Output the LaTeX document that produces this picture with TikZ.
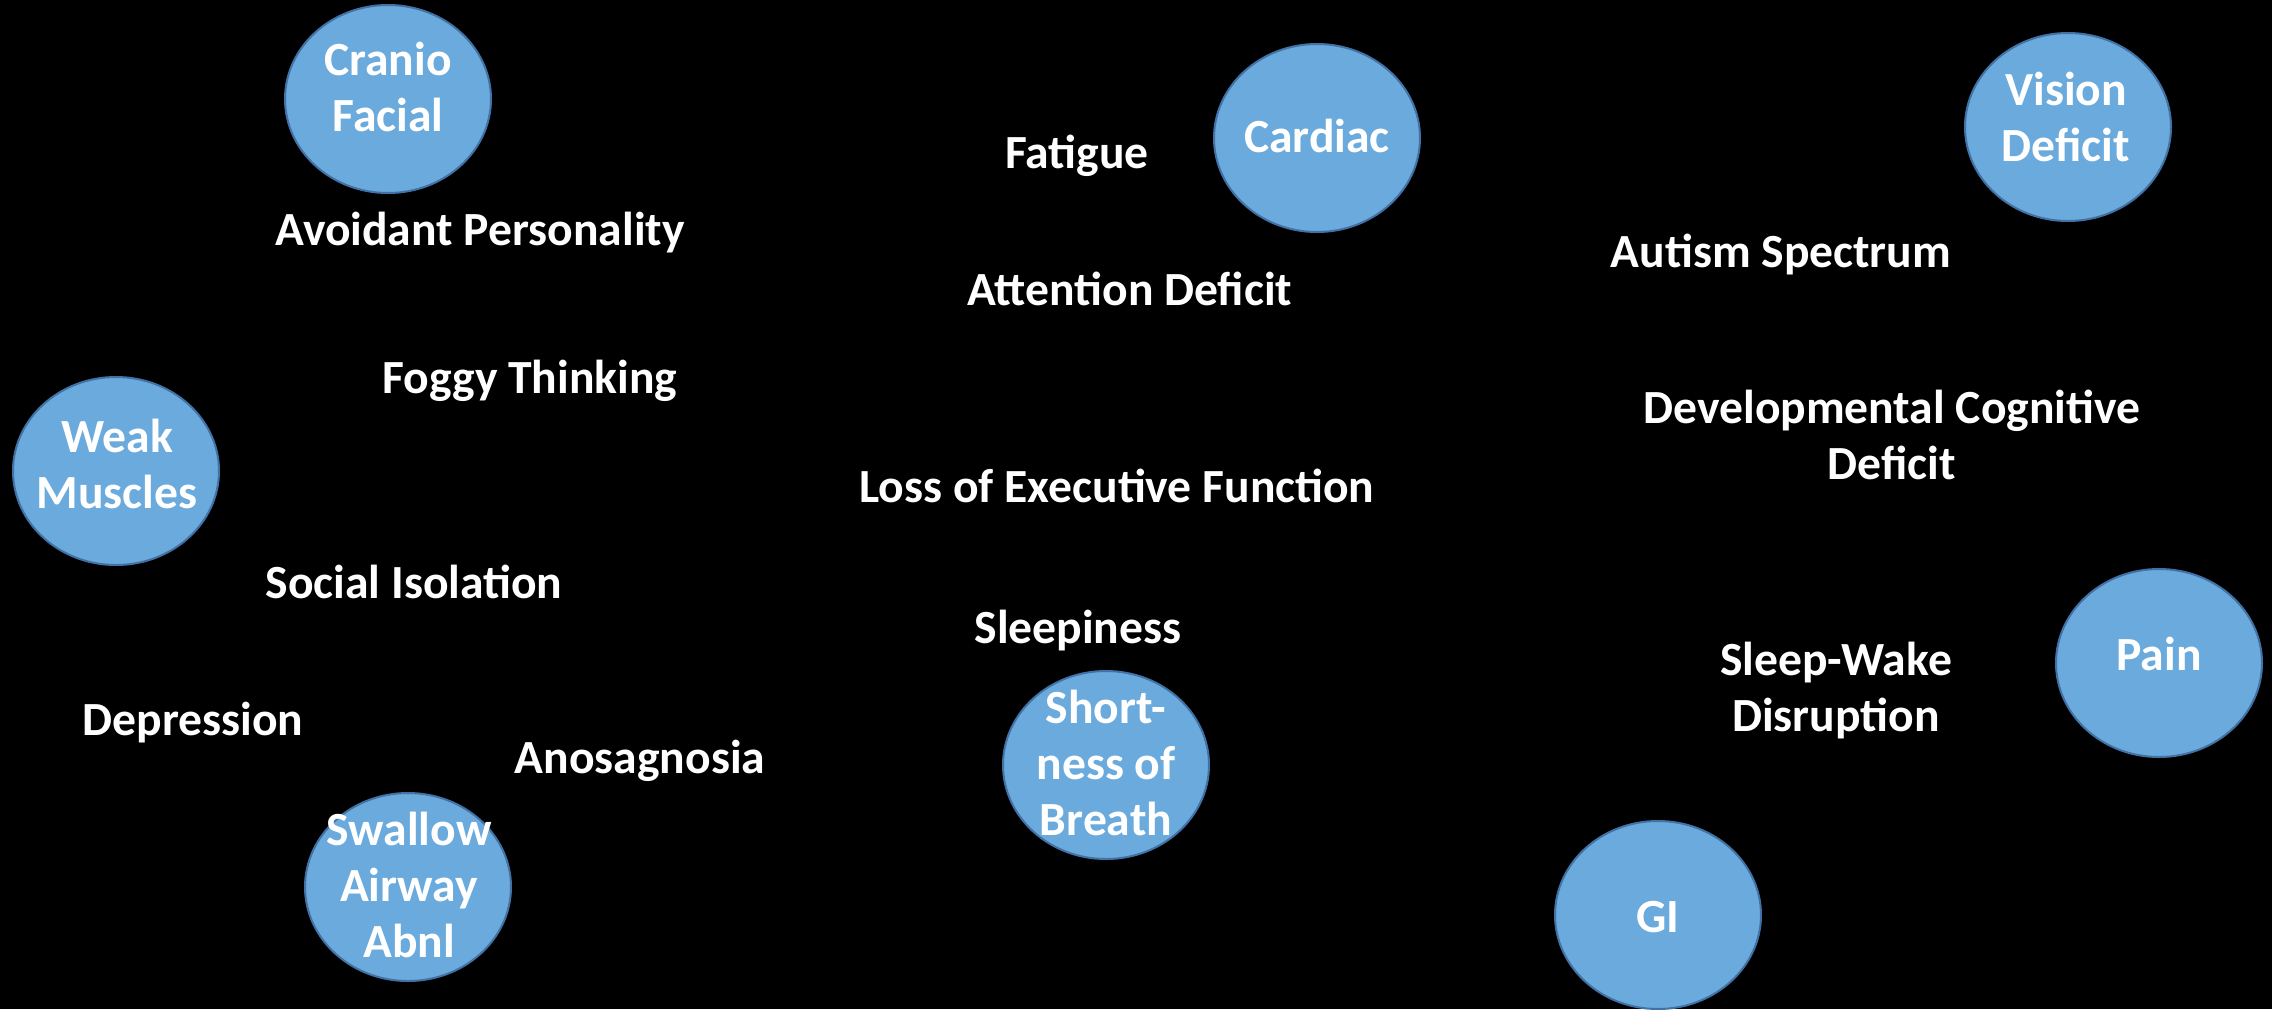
\documentclass[tikz,border=0pt]{standalone}
\usepackage{fontspec}
\setmainfont{Carlito}
\usetikzlibrary{shapes.geometric}
\definecolor{bubblefill}{RGB}{106,170,220}
\definecolor{bubbleline}{RGB}{66,114,165}
\newcommand{\lbl}[1]{\begin{tabular}[t]{@{}c@{}}#1\end{tabular}}
\begin{document}
\begin{tikzpicture}[x=0.5pt,y=-0.5pt,
  bubble/.style={ellipse,draw=bubbleline,line width=1pt,fill=bubblefill,
    minimum width=103pt,minimum height=94pt,inner sep=0pt},
  txt/.style={text=white,anchor=base,inner sep=0pt,
    font=\bfseries\fontsize{23.8}{28}\selectfont}]
\fill[black] (0,0) rectangle (2272,1009);
\useasboundingbox (0,0) rectangle (2272,1009);

% bubbles
\node[bubble] (cranio) at (388,99) {};
\node[bubble] (cardiac) at (1317,138) {};
\node[bubble] (vision) at (2068,127) {};
\node[bubble] (weak) at (116,471) {};
\node[bubble] (pain) at (2159,663) {};
\node[bubble] (breath) at (1106,765) {};
\node[bubble] (swallow) at (408,887) {};
\node[bubble] (gi) at (1658,915) {};

% bubble texts
\node[txt] (craniot) at (388,75) {\lbl{Cranio\\Facial}};
\node[txt] (cardiact) at (1317,152) {Cardiac};
\node[txt] (visiont) at (2066,105) {\lbl{Vision\\Deficit}};
\node[txt] (weakt) at (117,452) {\lbl{Weak\\Muscles}};
\node[txt] (paint) at (2159,670) {Pain};
\node[txt] (breatht) at (1106,723) {\lbl{Short-\\ness of\\Breath}};
\node[txt] (swallowt) at (409,845) {\lbl{Swallow\\Airway\\Abnl}};
\node[txt] (git) at (1658,932) {GI};

% free texts
\node[txt] (fatigue) at (1077,168) {Fatigue};
\node[txt] (avoidant) at (480,245) {Avoidant Personality};
\node[txt] (attention) at (1130,305) {Attention Deficit};
\node[txt] (autism) at (1781,267) {Autism Spectrum};
\node[txt] (foggy) at (530,393) {Foggy Thinking};
\node[txt] (devcog) at (1892,423) {\lbl{Developmental Cognitive\\Deficit}};
\node[txt] (loss) at (1117,502) {Loss of Executive Function};
\node[txt] (social) at (414,598) {Social Isolation};
\node[txt] (sleepy) at (1078,643) {Sleepiness};
\node[txt] (sleepwake) at (1836,675) {\lbl{Sleep-Wake\\Disruption}};
\node[txt] (depression) at (193,735) {Depression};
\node[txt] (anosag) at (640,773) {Anosagnosia};
\end{tikzpicture}
\end{document}
